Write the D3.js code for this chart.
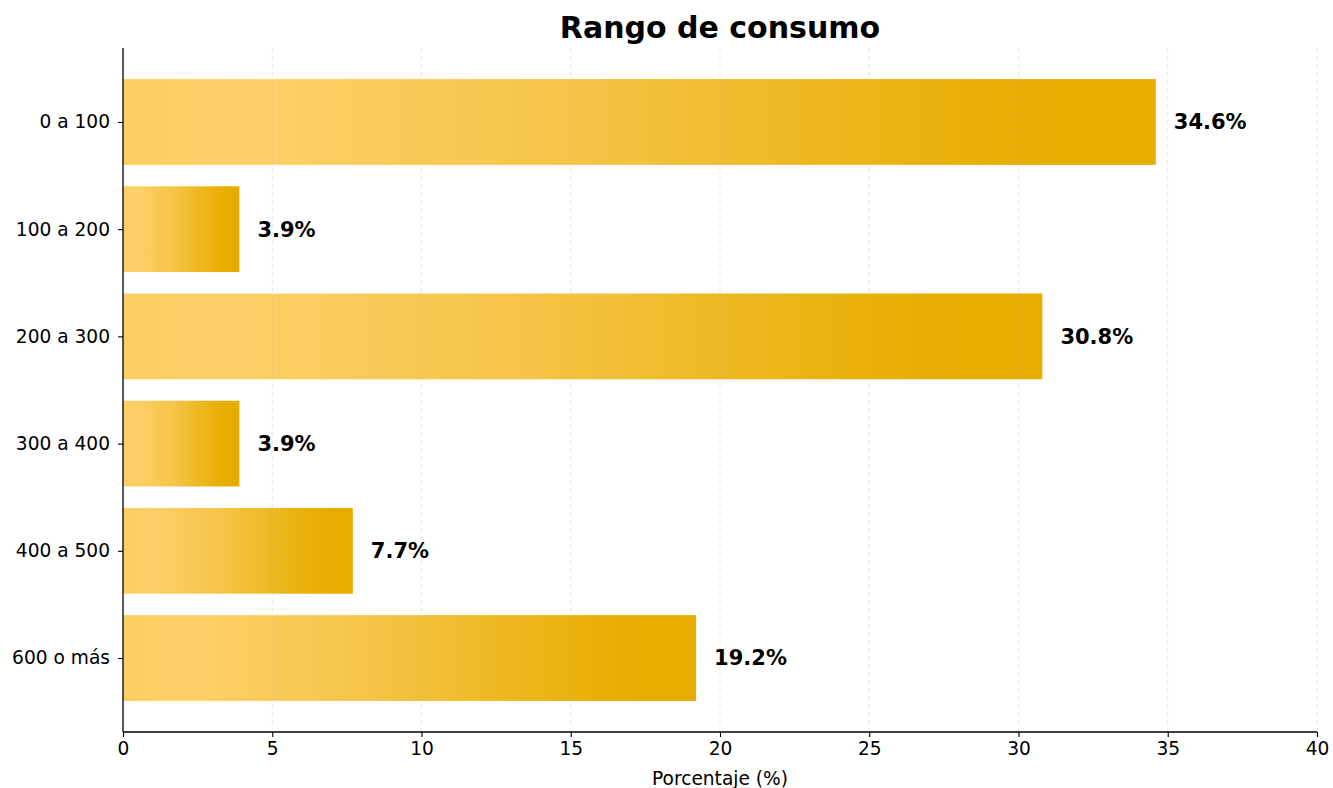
<!DOCTYPE html>
<html><head><meta charset="utf-8">
<script src="https://cdn.jsdelivr.net/npm/d3@7"></script>
<style>body{margin:0;background:#fff}svg{display:block;font-family:"DejaVu Sans",sans-serif}</style>
</head><body><svg id="c" width="1333" height="788"></svg>
<script>
const categories = ["0 a 100","100 a 200","200 a 300","300 a 400","400 a 500","600 o más"];
const values = [34.6, 3.9, 30.8, 3.9, 7.7, 19.2];
const xTicks = [0,5,10,15,20,25,30,35,40];
const title = "Rango de consumo";
const xLabel = "Porcentaje (%)";

const svg = d3.select("#c");
const L=123, R=1317, T=48, B=732;
const x = d3.scaleLinear().domain([0,40]).range([L,R]);
const y = d3.scaleLinear().domain([-0.69,5.69]).range([T,B]);
const bh = y(0.4)-y(-0.4);

const defs = svg.append("defs");
const g = defs.append("linearGradient").attr("id","gold").attr("x1","0").attr("x2","1").attr("y1","0").attr("y2","0");
[[0,"#fbcd62"],[0.12,"#fdd068"],[0.45,"#f5c345"],[0.75,"#ebb312"],[0.9,"#e6ac00"],[1,"#e6ac00"]].forEach(([o,c])=>g.append("stop").attr("offset",o).attr("stop-color",c));

svg.append("g").selectAll("rect").data(values).join("rect")
  .attr("x",x(0)).attr("y",(d,i)=>y(i)-bh/2).attr("width",d=>x(d)-x(0)).attr("height",bh)
  .attr("fill","url(#gold)");

svg.append("g").selectAll("line").data(xTicks.slice(1)).join("line")
  .attr("x1",d=>x(d)).attr("x2",d=>x(d)).attr("y1",T).attr("y2",B)
  .attr("stroke","#b0b0b0").attr("stroke-opacity",0.3).attr("stroke-dasharray","4,4").attr("stroke-width",1);

svg.append("g").selectAll("text").data(values).join("text")
  .attr("x",d=>x(d)+18).attr("y",(d,i)=>y(i)).attr("dy","0.35em")
  .attr("font-size",21).attr("font-weight","bold").attr("fill","#000")
  .text(d=>d.toFixed(1)+"%");

const xa = svg.append("g").attr("transform",`translate(0,${B})`)
  .call(d3.axisBottom(x).tickValues(xTicks).tickSize(5).tickPadding(5).tickFormat(d3.format("d")));
const ya = svg.append("g").attr("transform",`translate(${L},0)`)
  .call(d3.axisLeft(y).tickValues(d3.range(categories.length)).tickSize(5).tickPadding(8).tickFormat(i=>categories[i]));
[xa,ya].forEach(a=>{a.selectAll("text").attr("font-size",18.6).attr("fill","#000").attr("font-family","DejaVu Sans");
  a.selectAll("line").attr("stroke","#000").attr("stroke-width",1.1);
  a.select(".domain").attr("stroke","#000").attr("stroke-width",1.3);});
xa.select(".domain").attr("d",`M${L},0H${R}`);
ya.select(".domain").attr("d",`M0,${T}V${B}`);

svg.append("text").attr("x",(L+R)/2).attr("y",785).attr("text-anchor","middle").attr("font-size",18.6).text(xLabel);
svg.append("text").attr("x",(L+R)/2).attr("y",38).attr("text-anchor","middle").attr("font-size",30).attr("font-weight","bold").text(title);
</script></body></html>
